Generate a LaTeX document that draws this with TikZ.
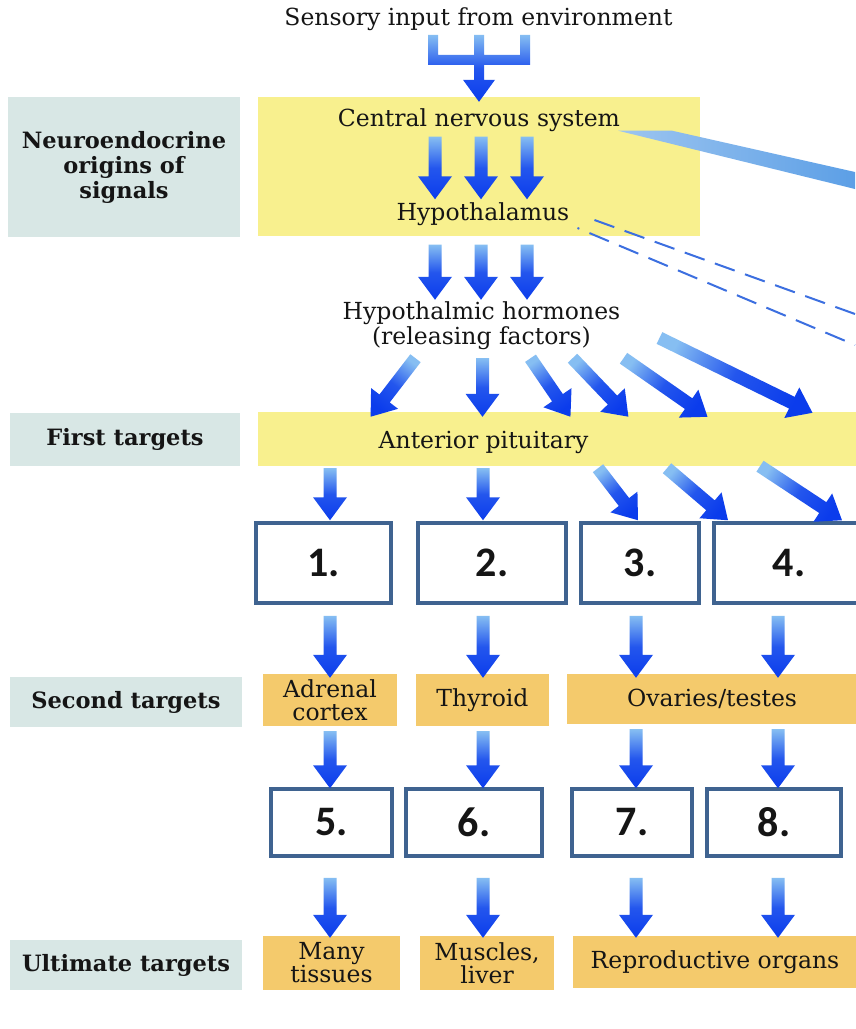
\documentclass[tikz,border=0pt]{standalone}
\usepackage{fontspec}
\setmainfont{DejaVu Serif}
\newfontfamily\numfont{Carlito}
\usetikzlibrary{calc}

\definecolor{apyellow}{HTML}{F8F08E}
\definecolor{tgorange}{HTML}{F4CA6C}
\definecolor{rowgray}{HTML}{D8E7E5}
\definecolor{frameblue}{HTML}{3F6390}
\definecolor{flowdark}{HTML}{0B3CEC}
\definecolor{flowlight}{HTML}{86BEF2}
\definecolor{bandblue}{HTML}{5C9FE6}
\definecolor{dashblue}{HTML}{3C6FE0}
\definecolor{inkgray}{HTML}{151515}

% block arrow, light at the tail: \flowarrow{(tail)}{(tip)}
\newcommand{\flowarrow}[2]{%
  \path let \p1=#1, \p2=#2 in \pgfextra{%
    \pgfmathsetmacro\fa{atan2((\y2)-(\y1),(\x2)-(\x1))}%
    \pgfmathsetmacro\fl{veclen((\x2)-(\x1),(\y2)-(\y1))}%
    \xdef\flowang{\fa}\xdef\flowlen{\fl}%
    \xdef\flowx{\x1}\xdef\flowy{\y1}};
  \pgfmathsetmacro\flowsh{\flowang+90}%
  \shade[flowshade,shading angle=\flowsh,shift={(\flowx,\flowy)},rotate=\flowang]
    (0,-6.5) -- (\flowlen-23,-6.5) -- (\flowlen-23,-17) -- (\flowlen,0)
    -- (\flowlen-23,17) -- (\flowlen-23,6.5) -- (0,6.5) -- cycle;
}

\begin{document}
\begin{tikzpicture}[x=1pt,y=-1pt,
  every node/.style={inner sep=0pt, text=inkgray},
  txt/.style={font=\fontsize{23.5}{25}\selectfont, align=center},
  rowlabel/.style={fill=rowgray, font=\fontsize{22.5}{25}\selectfont\bfseries, align=center},
  yband/.style={fill=apyellow},
  tbox/.style={fill=tgorange, font=\fontsize{23.5}{23}\selectfont, align=center},
  numbox/.style={draw=frameblue, line width=3.5pt, fill=white,
    font=\numfont\bfseries\fontsize{42}{42}\selectfont},
  flowshade/.style={top color=flowlight, bottom color=flowdark, middle color=flowdark!80!flowlight},
  dashlink/.style={draw=dashblue, line width=2pt, dash pattern=on 21pt off 11pt}]
\useasboundingbox (0,0) rectangle (855,1029);
\fill[white] (0,0) rectangle (855,1029);

% row labels
\node[rowlabel, minimum width=232, minimum height=140] (orig) at (124,167) {Neuroendocrine\\origins of\\signals};
\node[rowlabel, minimum width=230, minimum height=53] (first) at (125,439.5) {First targets};
\node[rowlabel, minimum width=232, minimum height=50] (second) at (126,702) {Second targets};
\node[rowlabel, minimum width=232, minimum height=50] (ultimate) at (126,965) {Ultimate targets};

% yellow bands
\node[yband, minimum width=442, minimum height=139] (cnsbox) at (479,166.5) {};
\node[yband, minimum width=600, minimum height=54] (antbox) at (558,439) {};

\node[txt] (sensory) at (478.5,19) {Sensory input from environment};
\node[txt] (cns) at (479,120) {Central nervous system};
\node[txt] (hyp) at (483,214) {Hypothalamus};
\node[txt] (horm) at (481.5,326) {Hypothalmic hormones\\(releasing factors)};
\node[txt] (ant) at (483.5,442) {Anterior pituitary};

% blanks, first row
\node[numbox, minimum width=135, minimum height=80] (n1) at (323.5,563) {1.};
\node[numbox, minimum width=148, minimum height=80] (n2) at (492,563) {2.};
\node[numbox, minimum width=118, minimum height=80] (n3) at (640,563) {3.};
\node[numbox, minimum width=150, minimum height=80] (n4) at (789,563) {4.};

% second targets
\node[tbox, minimum width=134, minimum height=52] (adrenal) at (330,700) {Adrenal\\cortex};
\node[tbox, minimum width=133, minimum height=52] (thyroid) at (482.5,700) {Thyroid};
\node[tbox, minimum width=290, minimum height=50] (gonads) at (712,699) {Ovaries/testes};

% blanks, second row
\node[numbox, minimum width=121, minimum height=67] (n5) at (331.5,822.5) {5.};
\node[numbox, minimum width=136, minimum height=67] (n6) at (474,822.5) {6.};
\node[numbox, minimum width=120, minimum height=67] (n7) at (632,822.5) {7.};
\node[numbox, minimum width=134, minimum height=67] (n8) at (774,822.5) {8.};

% ultimate targets
\node[tbox, minimum width=137, minimum height=54] (tissues) at (331.5,963) {Many\\tissues};
\node[tbox, minimum width=134, minimum height=54] (muscle) at (487,963) {Muscles,\\liver};
\node[tbox, minimum width=284, minimum height=52] (repro) at (715,962) {Reproductive organs};

\coordinate (k1) at (330,0);
\coordinate (k2) at (483,0);
\coordinate (k3) at (636,0);
\coordinate (k4) at (778,0);
\coordinate (cnsout) at (855,180.5);
\coordinate (hypout1) at (855,314);
\coordinate (hypout2) at (855,345);

% sensory input fork
\begin{scope}[shift={(cnsbox.north)}]
\shade[flowshade] (-51,-62) -- (-41,-62) -- (-41,-42) -- (-5,-42) -- (-5,-62) -- (5,-62)
  -- (5,-42) -- (41,-42) -- (41,-62) -- (51,-62) -- (51,-32) -- (5,-32) -- (5,-17)
  -- (16,-17) -- (0,5) -- (-16,-17) -- (-5,-17) -- (-5,-32) -- (-51,-32) -- cycle;
\end{scope}

% leaving the picture on the right
\shade[left color=bandblue!60!white, right color=bandblue] ($(cns.south east)+(-2,-1)$) -- ++(54,0)
  -- ($(cnsout)+(0,-8.5)$) -- ($(cnsout)+(0,8.5)$) -- cycle;
\draw[dashlink] ($(hyp.east)+(25,6)$) -- (hypout1);
\draw[dashlink, dash phase=19pt] ($(hyp.east)+(8,14)$) -- (hypout2);

\foreach \d in {-46,0,46}
  \flowarrow{($(cns.south)+(\d+2,5)$)}{($(hyp.north)+(\d-2,-3)$)};
\foreach \d in {-46,0,46}
  \flowarrow{($(hyp.south)+(\d-2,19)$)}{($(horm.north)+(\d-0.5,-2)$)};

% releasing factors fan out
\foreach \a/\b in {-66/-111, 1/1, 49/89, 91/147, 142/226}
  \flowarrow{($(horm.south)+(\a,8)$)}{($(antbox.north -| horm)+(\b,5)$)};
\flowarrow{($(horm.east)+(39,12)$)}{($(antbox.north -| horm)+(331,1)$)};

\flowarrow{($(antbox.south -| k1)+(0,2)$)}{($(n1.north -| k1)+(0,-1)$)};
\flowarrow{($(antbox.south -| k2)+(0,2)$)}{($(n2.north -| k2)+(0,-1)$)};
\flowarrow{($(antbox.south -| k3)+(-38,2)$)}{($(n3.north -| k3)+(2,-1)$)};
\flowarrow{($(antbox.south -| k4)+(-111,2)$)}{($(n4.north -| k4)+(-50,-1)$)};
\flowarrow{($(antbox.south -| k4)+(-18,0)$)}{($(n4.north -| k4)+(64,-1)$)};

\foreach \src/\dst/\col in {n1/adrenal/k1, n2/thyroid/k2, n3/gonads/k3, n4/gonads/k4}
  \flowarrow{($(\src.south -| \col)+(0,11)$)}{($(\dst.north -| \col)+(0,4)$)};
\foreach \src/\dst/\col in {adrenal/n5/k1, thyroid/n6/k2, gonads/n7/k3, gonads/n8/k4}
  \flowarrow{($(\src.south -| \col)+(0,5)$)}{($(\dst.north -| \col)+(0,1)$)};
\foreach \src/\dst/\col in {n5/tissues/k1, n6/muscle/k2, n7/repro/k3, n8/repro/k4}
  \flowarrow{($(\src.south -| \col)+(0,20)$)}{($(\dst.north -| \col)+(0,2)$)};
\end{tikzpicture}
\end{document}
